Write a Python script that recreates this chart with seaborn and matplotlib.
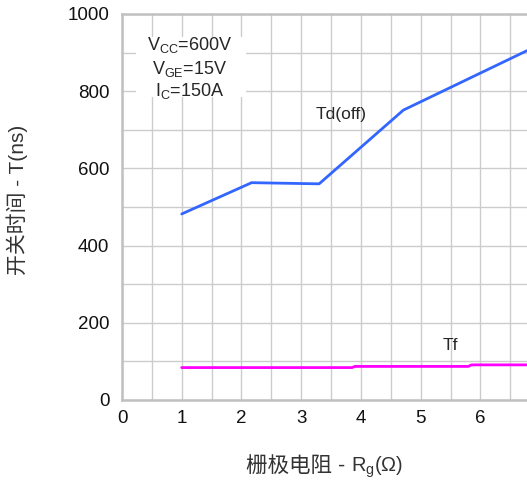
import matplotlib
matplotlib.use("Agg")
import matplotlib.pyplot as plt
import seaborn as sns
import pandas as pd
from matplotlib.patches import Rectangle
from matplotlib.offsetbox import TextArea, HPacker, AnnotationBbox

# curve values
rg_td = [1.0, 2.17, 3.3, 4.71, 6.78]
td_off = [482, 563, 560, 751, 905]
rg_tf = [1.0, 3.85, 3.9, 5.8, 5.85, 6.78]
tf = [84, 84, 87, 87, 91, 91]
x_ticks = [0, 1, 2, 3, 4, 5, 6]
y_ticks = [0, 200, 400, 600, 800, 1000]
conditions = [r"V$_{\mathrm{CC}}$=600V", r"V$_{\mathrm{GE}}$=15V", r"I$_{\mathrm{C}}$=150A"]

sns.set_style("white")
plt.rcParams['font.family'] = ['Liberation Sans', 'Noto Sans CJK SC', 'DejaVu Sans']
plt.rcParams['mathtext.fontset'] = 'custom'
plt.rcParams['mathtext.rm'] = 'Liberation Sans'

df_td = pd.DataFrame({'Rg': rg_td, 'T': td_off})
df_tf = pd.DataFrame({'Rg': rg_tf, 'T': tf})

fig = plt.figure(figsize=(5.27, 4.83), dpi=100)
ax = fig.add_axes([122 / 527, 83 / 483, 405 / 527, 386 / 483])

sns.lineplot(data=df_td, x='Rg', y='T', ax=ax, color='#3366FF', linewidth=2.0, zorder=3)
sns.lineplot(data=df_tf, x='Rg', y='T', ax=ax, color='#FF00FF', linewidth=2.0, zorder=3)

ax.set_xlim(0, 6.78)
ax.set_ylim(0, 1000)
ax.set_xticks(x_ticks)
ax.set_yticks(y_ticks)
ax.set_xticks([v + 0.5 for v in x_ticks], minor=True)
ax.set_yticks([v + 100 for v in y_ticks[:-1]], minor=True)
ax.grid(True, which='both', color='#cccccc', linewidth=1.0, zorder=0)
ax.set_axisbelow(True)
ax.tick_params(axis='both', which='both', length=0, labelsize=13.5, labelcolor='#111111')
ax.tick_params(axis='y', pad=9)
ax.tick_params(axis='x', pad=7)

for side in ['left', 'bottom', 'top']:
    ax.spines[side].set_color('#c0c0c0')
    ax.spines[side].set_linewidth(1.8)
ax.spines['right'].set_visible(False)

ax.set_xlabel("")
ax.set_ylabel("开关时间 - T(ns)", fontsize=15, color='#333333')
ax.yaxis.set_label_coords(-0.232, 0.518)

# x label: CJK part as plain text, subscript part through mathtext
xlab = HPacker(children=[TextArea("栅极电阻 - ", textprops=dict(fontsize=15.5, color='#333333')),
                         TextArea(r"R$_{\mathrm{g}}$(Ω)", textprops=dict(fontsize=14.5, color='#333333'))],
               align="baseline", pad=0, sep=0)
ab = AnnotationBbox(xlab, (0.5, -0.174), xycoords='axes fraction',
                    box_alignment=(0.5, 0.5), frameon=False, annotation_clip=False)
ax.add_artist(ab)

# white box behind the test conditions
ax.add_patch(Rectangle((0.035, 0.785), 0.27, 0.155, transform=ax.transAxes,
                       facecolor='white', edgecolor='none', zorder=1))
cond_y = [920, 858, 800]
for txt, yy in zip(conditions, cond_y):
    ax.text(1.13, yy, txt, ha='center', va='center', fontsize=13, zorder=2)

ax.text(3.67, 740, "Td(off)", ha='center', va='center', fontsize=12.5, zorder=4)
ax.text(5.5, 142, "Tf", ha='center', va='center', fontsize=12.5, zorder=4)

fig.savefig('out.png', dpi=100)
